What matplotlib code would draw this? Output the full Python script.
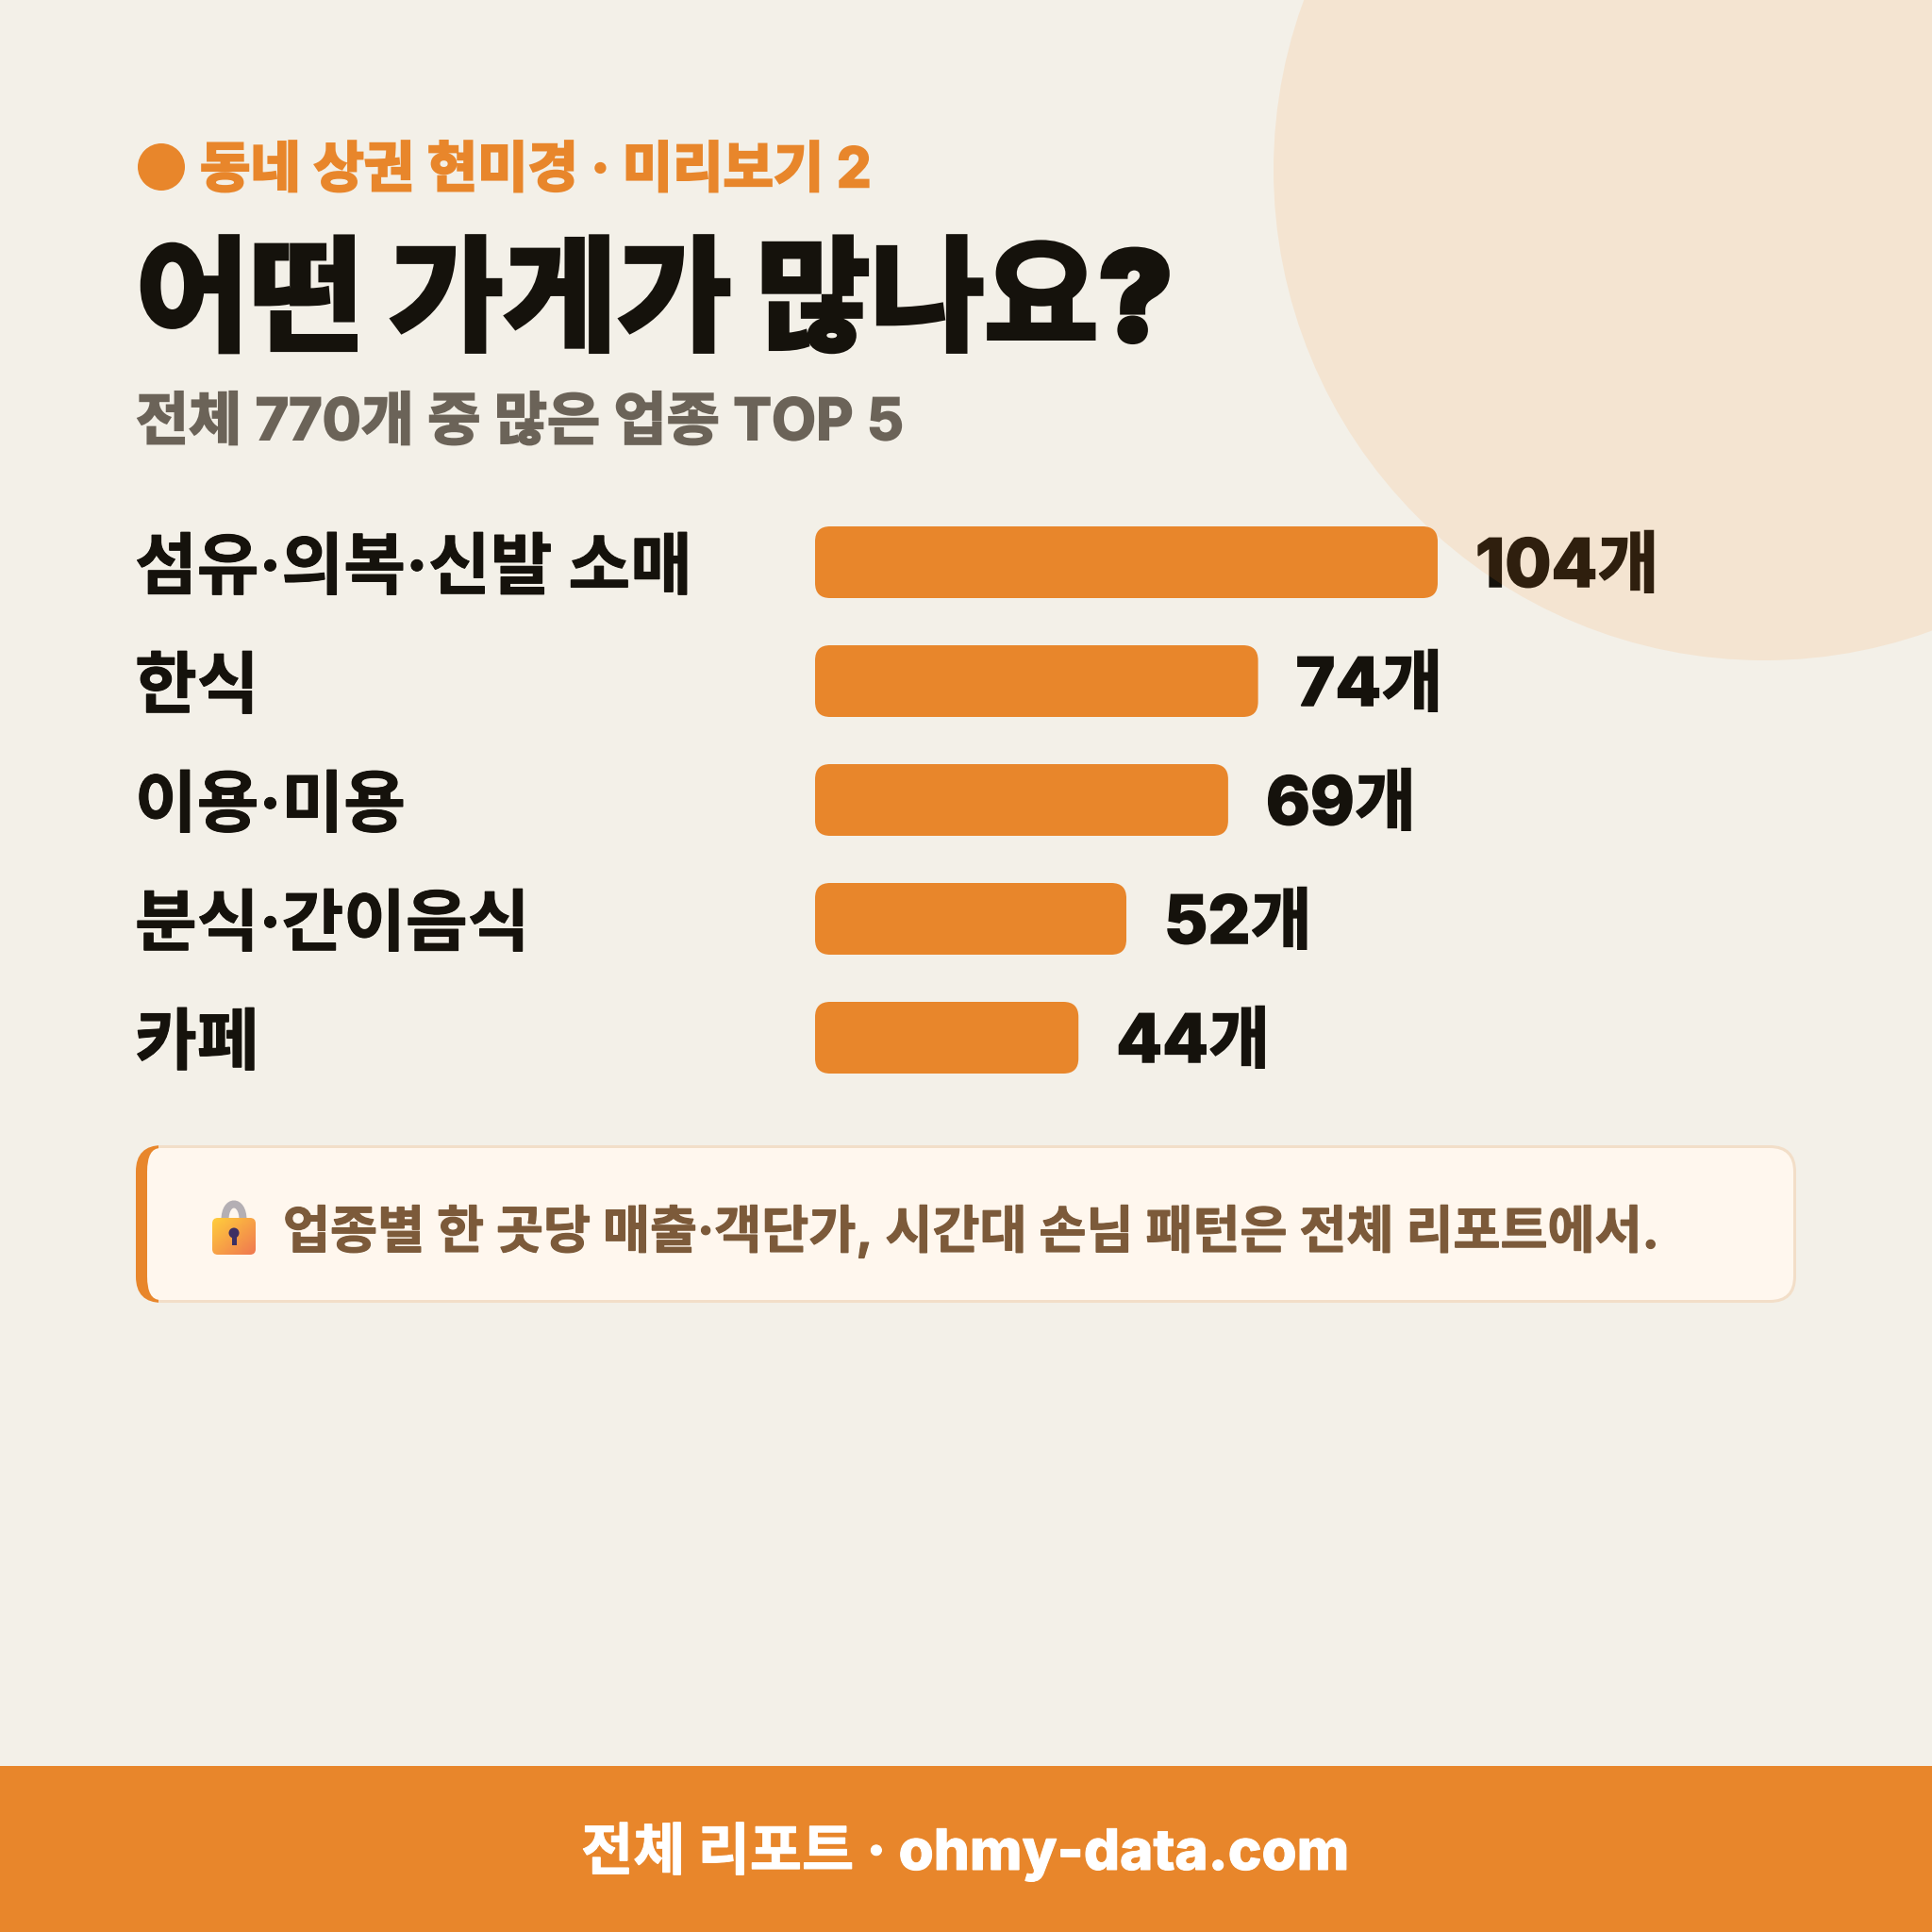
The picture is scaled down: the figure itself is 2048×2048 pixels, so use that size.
import matplotlib
matplotlib.use("Agg")
from matplotlib import pyplot as plt
from matplotlib import patheffects as pe
from matplotlib.patches import Circle, FancyBboxPatch, Rectangle, PathPatch
from matplotlib.path import Path
import numpy as np

categories = ["섬유·의복·신발 소매", "한식", "이용·미용", "분식·간이음식", "카페"]
counts = [104, 74, 69, 52, 44]
unit = "개"

eyebrow = "동네 상권 현미경 · 미리보기 2"
title = "어떤 가게가 많나요?"
subtitle = "전체 770개 중 많은 업종 TOP 5"
note = "업종별 한 곳당 매출·객단가, 시간대 손님 패턴은 전체 리포트에서."
footer = "전체 리포트 · ohmy-data.com"

BG = "#f3f0e8"
ORANGE = "#e8862b"
INK = "#15120c"
GREY = "#6b6358"
BROWN = "#7c5a3a"
FONTS = ["Inter", "Noto Sans CJK KR"]

W = 2048
PT = 72 / 100  # one pixel in points at dpi 100


def px(size):
    return size * PT


def thicken(t, color, amount):
    # the CJK family stops at Bold, a mitred outline gets it to the heavier look
    t.set_path_effects([pe.withStroke(linewidth=px(amount), foreground=color, joinstyle="miter")])


fig = plt.figure(figsize=(W / 100, W / 100), dpi=100, facecolor=BG)

# page layer, laid out in pixels from the top left
page = fig.add_axes([0, 0, 1, 1], zorder=0)
page.axis("off")


def label(s, x, y, size, color, weight=700, bold=0.0, ha="left"):
    t = page.text(x, y, s, fontsize=px(size), color=color, weight=weight,
                  family=FONTS, ha=ha, va="baseline")
    if bold:
        thicken(t, color, bold)
    return t


# header
page.add_patch(Circle((171, 177), 25, fc=ORANGE, ec="none"))
label(eyebrow, 212, 198, 58, ORANGE, bold=2.5)
label(title, 144, 361, 131.5, INK, weight=900, bold=5)
label(subtitle, 144, 466, 61, GREY, bold=2)

# note box with its thick left edge
box_x, box_y, box_w, box_h = 144, 1214, 1760, 167
page.add_patch(FancyBboxPatch((box_x, box_y), box_w, box_h, boxstyle="round,pad=0,rounding_size=28",
                              fc="#f2dec8", ec="none"))
accent = FancyBboxPatch((box_x, box_y), box_w, box_h, boxstyle="round,pad=0,rounding_size=28",
                        fc=ORANGE, ec="none")
page.add_patch(accent)
accent.set_clip_path(Rectangle((box_x, box_y), 24, box_h, transform=page.transData))
# inner corners are elliptical on the left, round on the right
page.add_patch(FancyBboxPatch((box_x + 12, box_y + 3), 260, box_h - 6,
                              boxstyle="round,pad=0,rounding_size=14", mutation_aspect=25 / 14,
                              fc="#fff7ee", ec="none"))
page.add_patch(FancyBboxPatch((box_x + 150, box_y + 3), box_w - 153, box_h - 6,
                              boxstyle="round,pad=0,rounding_size=25", fc="#fff7ee", ec="none"))
label(note, 300, 1323, 54.4, BROWN, bold=1.2)

# lock icon, no installed font carries it
shackle = Path([(238.5, 1293), (238.5, 1271), (257.5, 1271), (257.5, 1293)],
               [Path.MOVETO, Path.CURVE4, Path.CURVE4, Path.CURVE4])
page.add_patch(PathPatch(shackle, fc="none", ec="#b4afb4", lw=px(8), capstyle="butt"))
body = FancyBboxPatch((225, 1291), 46, 39, boxstyle="round,pad=0,rounding_size=6",
                      fc="none", ec="none")
page.add_patch(body)
c0, c1 = np.array([255, 205, 60]), np.array([240, 120, 80])
tx, ty = np.meshgrid(np.linspace(0, 1, 40), np.linspace(0, 1, 40))
mix = ((tx + ty) / 2)[..., None]
shade = page.imshow((c0 + (c1 - c0) * mix) / 255, extent=(225, 271, 1330, 1291), aspect="auto", zorder=2)
shade.set_clip_path(body)
page.add_patch(Circle((248, 1307), 5.5, fc="#3d2f63", ec="none", zorder=3))
page.add_patch(Rectangle((245.5, 1307), 5, 13, fc="#3d2f63", ec="none", zorder=3))

# footer band
page.add_patch(Rectangle((0, 1872), W, W - 1872, fc=ORANGE, ec="none"))
label(footer, 1023, 1982, 60, "white", weight=800, bold=1, ha="center")

page.set_xlim(0, W)
page.set_ylim(W, 0)

# bars: one count is 660/104 pixels wide, one row is 126 pixels tall
bars = fig.add_axes([864 / W, 1 - 1163 / W, 660 / W, 630 / W], zorder=1)
bars.patch.set_alpha(0)
bars.set_xlim(0, max(counts))
bars.set_ylim(4.5, -0.5)
bars.axis("off")
x_scale = 660 / max(counts)
for i, (name, v) in enumerate(zip(categories, counts)):
    r = 16 / x_scale
    bars.add_patch(FancyBboxPatch((0, i - 38 / 126), v, 76 / 126,
                                  boxstyle=f"round,pad=0,rounding_size={r}",
                                  mutation_aspect=(16 / 126) / r,
                                  fc=ORANGE, ec="none", clip_on=False))
    t = bars.annotate(name, xy=(0, i), xytext=(px(143 - 864), px(-28)), textcoords="offset points",
                      fontsize=px(71.5), weight=700, family=FONTS, color=INK,
                      ha="left", va="baseline", annotation_clip=False)
    thicken(t, INK, 1)
    t = bars.annotate(f"{v}{unit}", xy=(v, i), xytext=(px(40), px(-26)), textcoords="offset points",
                      fontsize=px(71), weight=800, family=FONTS, color=INK,
                      ha="left", va="baseline", annotation_clip=False)
    thicken(t, INK, 1.5)

# the pale disc sits over everything in the top right corner
top = fig.add_axes([0, 0, 1, 1], zorder=2)
top.patch.set_alpha(0)
top.set_xlim(0, W)
top.set_ylim(W, 0)
top.axis("off")
top.add_patch(Circle((1870, 180), 520, fc="#ff8a20", ec="none", alpha=0.115))

fig.savefig("out.png", dpi=100, facecolor=BG)
